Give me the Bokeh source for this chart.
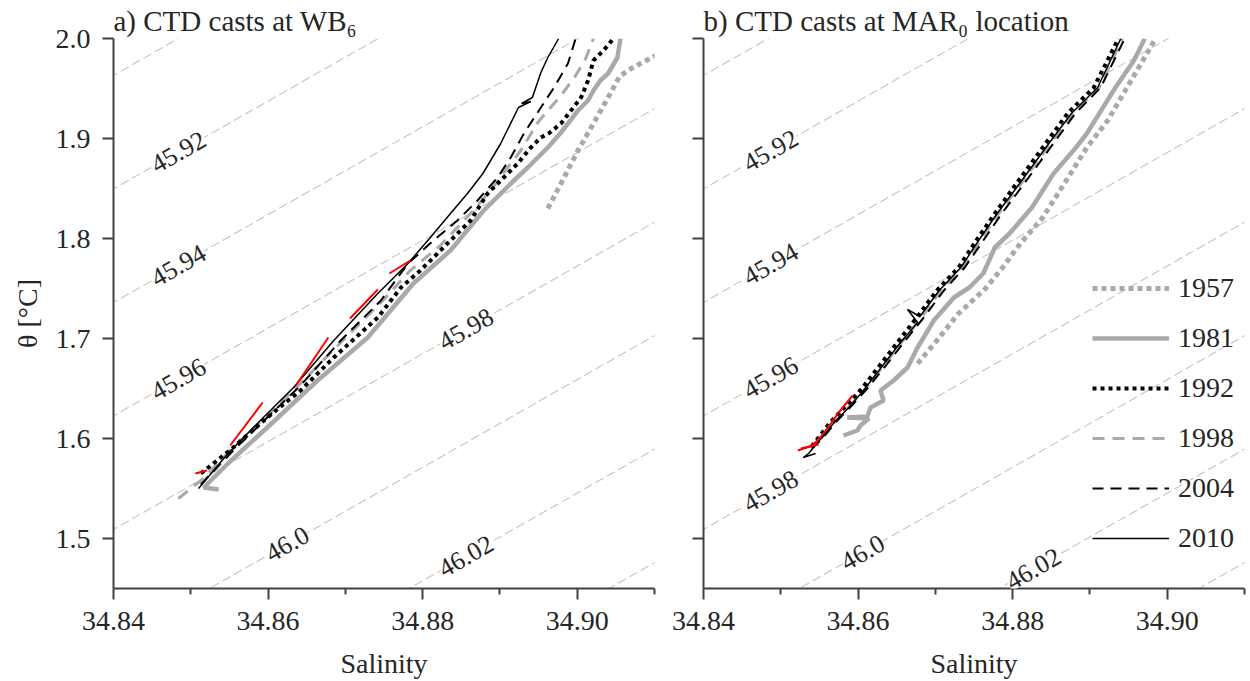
import numpy as np
from bokeh.plotting import figure
from bokeh.models import (Range1d, FixedTicker, PrintfTickFormatter, Legend, LegendItem,
                          LabelSet, ColumnDataSource)
from bokeh.layouts import row
from bokeh.embed import file_html
from bokeh.resources import INLINE

FONT = "Liberation Serif"
TXT = "#262626"
AXC = "#404040"
GRAY = "#a9a9a9"

# ---------------- data: panel a) WB6 ----------------
s1957_a = [34.8962, 34.8983, 34.9001, 34.9021, 34.9040, 34.9054, 34.9065, 34.9082, 34.9104]
t1957_a = [1.830, 1.861, 1.888, 1.915, 1.941, 1.961, 1.968, 1.975, 1.984]

s1981_a = [34.8536, 34.8517, 34.8548, 34.8599, 34.8664, 34.8729, 34.8788, 34.8836, 34.8879, 34.8914,
           34.8936, 34.8962, 34.8979, 34.8988, 34.9001, 34.9014, 34.9021, 34.9030, 34.9040, 34.9052, 34.9056]
t1981_a = [1.549, 1.551, 1.575, 1.611, 1.658, 1.701, 1.755, 1.788, 1.828, 1.855,
           1.871, 1.891, 1.906, 1.915, 1.928, 1.938, 1.948, 1.958, 1.965, 1.981, 2.000]

s1992_a = [34.8513, 34.8555, 34.8599, 34.8642, 34.8685, 34.8742, 34.8772, 34.8797, 34.8827, 34.8862, 34.8884,
           34.8901, 34.8923, 34.8940, 34.8953, 34.8963, 34.8979, 34.8992, 34.9005, 34.9014, 34.9021, 34.9034, 34.9047]
t1992_a = [1.565, 1.591, 1.621, 1.648, 1.681, 1.721, 1.751, 1.768, 1.791, 1.818, 1.845,
           1.858, 1.875, 1.891, 1.901, 1.905, 1.915, 1.928, 1.941, 1.958, 1.978, 1.988, 2.000]

s1998_a = [34.8484, 34.8513, 34.8555, 34.8599, 34.8642, 34.8694, 34.8746, 34.8784, 34.8823, 34.8862,
           34.8888, 34.8907, 34.8927, 34.8949, 34.8962, 34.8979, 34.8998, 34.9011, 34.9021]
t1998_a = [1.540, 1.558, 1.591, 1.623, 1.655, 1.696, 1.736, 1.768, 1.793, 1.825,
           1.848, 1.868, 1.888, 1.916, 1.928, 1.943, 1.963, 1.980, 2.000]

s2004_a = [34.8513, 34.8555, 34.8599, 34.8642, 34.8694, 34.8746, 34.8781, 34.8814, 34.8845, 34.8871,
           34.8897, 34.8914, 34.8931, 34.8953, 34.8970, 34.8988, 34.8998]
t2004_a = [1.554, 1.588, 1.621, 1.653, 1.698, 1.738, 1.775, 1.798, 1.818, 1.838,
           1.861, 1.881, 1.905, 1.931, 1.951, 1.975, 2.000]

s2010_a = [34.8510, 34.8548, 34.8590, 34.8633, 34.8685, 34.8742, 34.8781, 34.8810, 34.8836, 34.8858,
           34.8878, 34.8901, 34.8924, 34.8940, 34.8928, 34.8942, 34.8953, 34.8962, 34.8976]
t2010_a = [1.550, 1.585, 1.618, 1.651, 1.698, 1.745, 1.775, 1.801, 1.825, 1.845,
           1.865, 1.895, 1.931, 1.937, 1.935, 1.941, 1.966, 1.981, 2.000]

red_s_a = [[34.8506, 34.8521], [34.8551, 34.8593], [34.8636, 34.8678], [34.8706, 34.8742], [34.8757, 34.8784]]
red_t_a = [[1.565, 1.568], [1.593, 1.636], [1.653, 1.701], [1.720, 1.749], [1.765, 1.778]]

# ---------------- data: panel b) MAR0 ----------------
s1957_b = [34.8677, 34.8702, 34.8730, 34.8765, 34.8787, 34.8810, 34.8839, 34.8867, 34.8896, 34.8923,
           34.8951, 34.8976, 34.8985]
t1957_b = [1.675, 1.698, 1.725, 1.750, 1.771, 1.795, 1.821, 1.855, 1.891, 1.918,
           1.955, 1.988, 2.000]

s1981_b = [34.8581, 34.8599, 34.8603, 34.8614, 34.8586, 34.8612, 34.8616, 34.8633, 34.8629, 34.8646,
           34.8664, 34.8677, 34.8698, 34.8724, 34.8744, 34.8762, 34.8777, 34.8796, 34.8825, 34.8853,
           34.8882, 34.8896, 34.8933, 34.8957, 34.8971]
t1981_b = [1.603, 1.608, 1.613, 1.620, 1.621, 1.622, 1.631, 1.638, 1.648, 1.658,
           1.671, 1.691, 1.718, 1.741, 1.751, 1.765, 1.791, 1.805, 1.831, 1.865,
           1.891, 1.905, 1.951, 1.978, 2.000]

s1992_b = [34.8540, 34.8548, 34.8565, 34.8585, 34.8605, 34.8628, 34.8652, 34.8675, 34.8702, 34.8730,
           34.8753, 34.8777, 34.8805, 34.8839, 34.8871, 34.8905, 34.8937]
t1992_b = [1.592, 1.600, 1.617, 1.633, 1.650, 1.673, 1.697, 1.720, 1.748, 1.771,
           1.798, 1.825, 1.855, 1.891, 1.925, 1.951, 2.000]

s1998_b = [34.8552, 34.8570, 34.8590, 34.8610, 34.8633, 34.8657, 34.8681, 34.8707, 34.8735, 34.8758,
           34.8782, 34.8811, 34.8845, 34.8878, 34.8912, 34.8942]
t1998_b = [1.600, 1.617, 1.633, 1.650, 1.673, 1.697, 1.720, 1.748, 1.771, 1.798,
           1.825, 1.855, 1.891, 1.925, 1.951, 2.000]

s2004_b = [34.8540, 34.8554, 34.8572, 34.8592, 34.8612, 34.8636, 34.8660, 34.8684, 34.8711, 34.8738,
           34.8762, 34.8786, 34.8815, 34.8849, 34.8881, 34.8914, 34.8945]
t2004_b = [1.590, 1.600, 1.617, 1.633, 1.650, 1.673, 1.697, 1.720, 1.748, 1.771,
           1.798, 1.825, 1.855, 1.891, 1.925, 1.951, 2.000]

s2010_b = [34.8545, 34.8529, 34.8536, 34.8550, 34.8568, 34.8588, 34.8607, 34.8630, 34.8654, 34.8677,
           34.8664, 34.8680, 34.8705, 34.8733, 34.8756, 34.8780, 34.8809, 34.8843, 34.8876, 34.8910, 34.8940]
t2010_b = [1.585, 1.581, 1.585, 1.598, 1.615, 1.631, 1.648, 1.671, 1.695, 1.716,
           1.729, 1.722, 1.748, 1.771, 1.798, 1.825, 1.855, 1.891, 1.925, 1.951, 2.000]

red_s_b = [[34.8593, 34.8575, 34.8561, 34.8551, 34.8541, 34.8522], [34.8526, 34.8549]]
red_t_b = [[1.643, 1.626, 1.611, 1.601, 1.593, 1.588], [1.590, 1.594]]

years = ["1957", "1981", "1992", "1998", "2004", "2010"]

# ---------------- isopycnals (sigma-4, linearised) ----------------
sigma_levels = [45.90, 45.92, 45.94, 45.96, 45.98, 46.00, 46.02, 46.04]
label_levels = [45.92, 45.94, 45.96, 45.98, 46.00, 46.02]
label_texts = ["45.92", "45.94", "45.96", "45.98", "46.0", "46.02"]
label_s_a = [34.8484, 34.8484, 34.8484, 34.8856, 34.8625, 34.8856]
label_s_b = [34.8487, 34.8487, 34.8487, 34.8487, 34.8606, 34.8827]

SIG_REF, S_REF, T_REF = 46.0, 34.8524, 1.45
DSIG_DS, DSIG_DT = 0.7735, -0.1762


def theta_on(level, s):
    s = np.asarray(s, dtype=float)
    return T_REF + (DSIG_DS * (s - S_REF) - (level - SIG_REF)) / (-DSIG_DT)


XR = (34.84, 34.91)
YR = (1.45, 2.0)
FRAME_W, FRAME_H = 541, 550
TOP, BOTTOM = 38, 93
FS = "28px"

STYLES = {
    "1957": dict(line_color=GRAY, line_width=5, line_dash="5 4"),
    "1981": dict(line_color=GRAY, line_width=4.5),
    "1992": dict(line_color="black", line_width=4, line_dash="4 4"),
    "1998": dict(line_color=GRAY, line_width=3, line_dash="12 8"),
    "2004": dict(line_color="black", line_width=2, line_dash="11 7"),
    "2010": dict(line_color="black", line_width=1.5),
}
DRAW_ORDER = ["1957", "1981", "1998", "1992", "2004", "2010"]


def make_panel(title, series, red_s, red_t, label_s, left_border, right_border, ylabels):
    p = figure(width=left_border + FRAME_W + right_border, height=TOP + FRAME_H + BOTTOM,
               x_range=Range1d(*XR), y_range=Range1d(*YR),
               output_backend="svg", toolbar_location=None,
               min_border_left=left_border, min_border_right=right_border,
               min_border_top=TOP, min_border_bottom=BOTTOM, title=title)
    p.outline_line_color = None
    p.grid.visible = False
    p.background_fill_color = "white"
    p.border_fill_color = "white"

    p.title.text_font = FONT
    p.title.text_font_size = "29px"
    p.title.text_font_style = "normal"
    p.title.text_color = TXT
    p.title.align = "left"
    p.title.standoff = 4

    # isopycnals
    s_line = np.array([34.80, 34.95])
    for lev in sigma_levels:
        p.line(s_line, theta_on(lev, s_line), line_color="#c4c4c4", line_width=1.1,
               line_dash="9 4")

    rends = {}
    for y in DRAW_ORDER:
        s, t = series[y]
        rends[y] = p.line(s, t, **STYLES[y])

    p.multi_line(red_s, red_t, line_color="#ff0000", line_width=2)

    # contour labels
    slope_px = (DSIG_DS / -DSIG_DT) * (FRAME_H / (YR[1] - YR[0])) / (FRAME_W / (XR[1] - XR[0]))
    ang = float(np.arctan(slope_px))
    lx = list(label_s)
    ly = [float(theta_on(lev, s)) for lev, s in zip(label_levels, label_s)]
    src = ColumnDataSource(dict(x=lx, y=ly, text=label_texts, angle=[ang] * len(lx)))
    p.add_layout(LabelSet(x="x", y="y", text="text", angle="angle", source=src,
                          text_font=FONT, text_font_size="26px", text_color=TXT,
                          text_align="center", text_baseline="middle",
                          background_fill_color="white", background_fill_alpha=1.0))

    # axes
    for ax in (p.xaxis[0], p.yaxis[0]):
        ax.axis_line_color = AXC
        ax.axis_line_width = 2
        ax.major_tick_line_color = AXC
        ax.major_tick_line_width = 2
        ax.minor_tick_line_color = AXC
        ax.minor_tick_line_width = 2
        ax.major_tick_in = 0
        ax.minor_tick_in = 0
        ax.major_label_text_font = FONT
        ax.major_label_text_font_size = FS
        ax.major_label_text_color = TXT
        ax.axis_label_text_font = FONT
        ax.axis_label_text_font_size = FS
        ax.axis_label_text_font_style = "normal"
        ax.axis_label_text_color = TXT

    xa = p.xaxis[0]
    xa.ticker = FixedTicker(ticks=[34.84, 34.86, 34.88, 34.90],
                            minor_ticks=[34.85, 34.87, 34.89, 34.91])
    xa.formatter = PrintfTickFormatter(format="%.2f")
    xa.major_tick_out = 11
    xa.minor_tick_out = 6
    xa.major_label_standoff = 12
    xa.axis_label = "Salinity"
    xa.axis_label_standoff = 15

    ya = p.yaxis[0]
    ya.ticker = FixedTicker(ticks=[1.5, 1.6, 1.7, 1.8, 1.9, 2.0], minor_ticks=[])
    ya.formatter = PrintfTickFormatter(format="%.1f")
    ya.major_tick_out = 11
    ya.minor_tick_out = 0
    if ylabels:
        ya.major_label_standoff = 12
        ya.axis_label = "θ [°C]"
        ya.axis_label_standoff = 10
    else:
        ya.major_label_text_color = None
        ya.major_label_standoff = 0
    return p, rends


series_a = {"1957": (s1957_a, t1957_a), "1981": (s1981_a, t1981_a), "1992": (s1992_a, t1992_a),
            "1998": (s1998_a, t1998_a), "2004": (s2004_a, t2004_a), "2010": (s2010_a, t2010_a)}
series_b = {"1957": (s1957_b, t1957_b), "1981": (s1981_b, t1981_b), "1992": (s1992_b, t1992_b),
            "1998": (s1998_b, t1998_b), "2004": (s2004_b, t2004_b), "2010": (s2010_b, t2010_b)}

p1, _ = make_panel("a) CTD casts at WB\u2086", series_a, red_s_a, red_t_a, label_s_a, 113, 2, True)
p2, rb = make_panel("b) CTD casts at MAR\u2080 location", series_b, red_s_b, red_t_b, label_s_b, 47, 6, False)

legend = Legend(items=[LegendItem(label=y, renderers=[rb[y]]) for y in years],
                location=(389, 34), orientation="vertical",
                glyph_width=77, glyph_height=26, label_height=26, spacing=18,
                padding=0, margin=0, label_standoff=9,
                background_fill_alpha=0, border_line_alpha=0,
                label_text_font=FONT, label_text_font_size=FS, label_text_color=TXT,
                label_text_baseline="middle")
p2.add_layout(legend)

layout = row(p1, p2)
open("out.html", "w").write(file_html(layout, INLINE))
